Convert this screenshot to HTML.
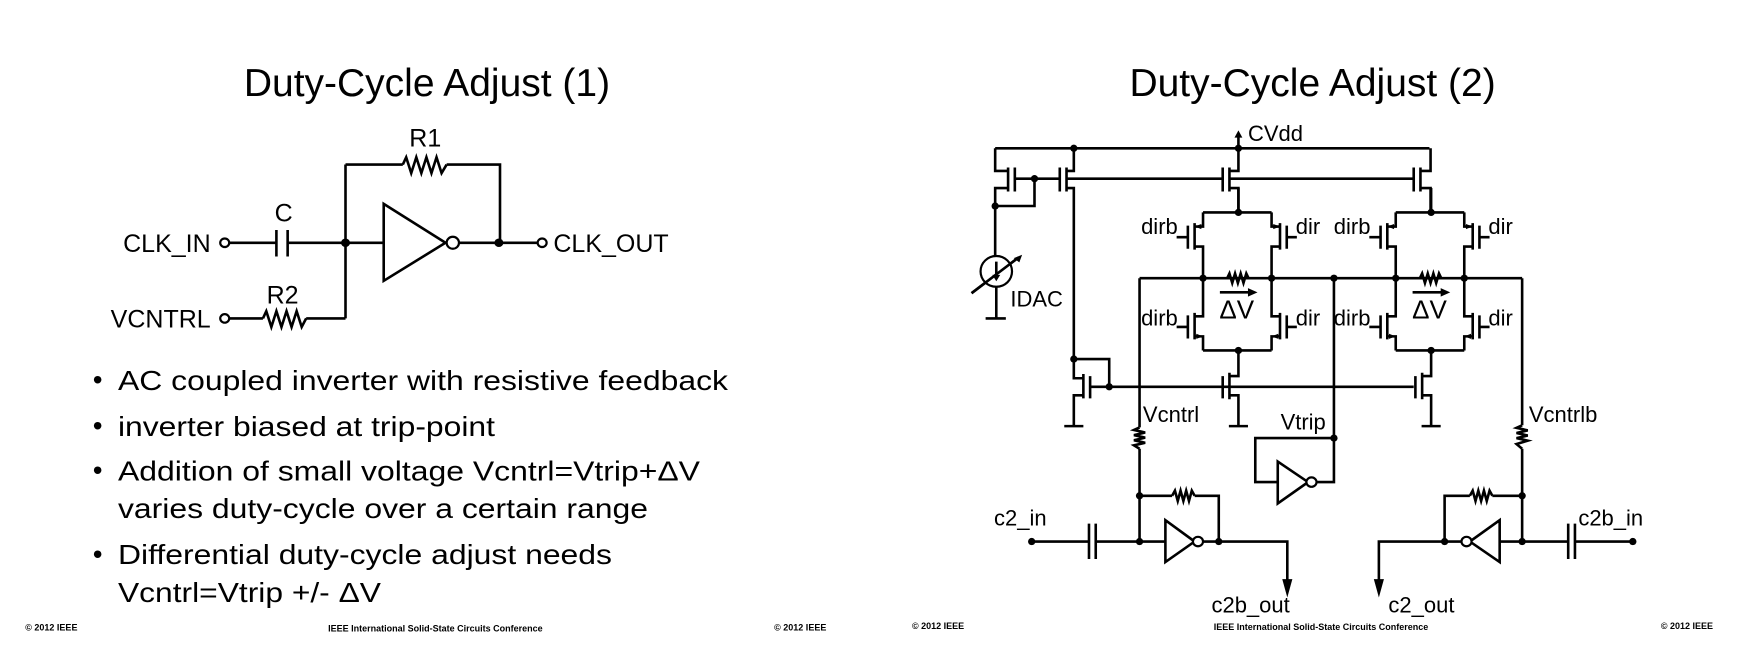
<!DOCTYPE html>
<html><head><meta charset="utf-8"><style>
html,body{margin:0;padding:0;background:#fff;}
svg{display:block;}
text{font-family:"Liberation Sans",Arial,sans-serif;fill:#000;}
</style></head><body>
<svg width="1760" height="670" viewBox="0 0 1760 670" xmlns="http://www.w3.org/2000/svg">
<defs>
<style>
.w{fill:none;stroke:#000;stroke-width:2.6;vector-effect:non-scaling-stroke;stroke-linejoin:miter;}
.f{fill:#000;stroke:none;}
.o{fill:#fff;stroke:#000;stroke-width:2.2;vector-effect:non-scaling-stroke;}
</style>
</defs>

<!-- LEFT SLIDE (zoom coords) -->
<g transform="scale(0.5618,0.4274)">
<text transform="translate(760,225) scale(1.78,2.34)" font-size="39" text-anchor="middle">Duty-Cycle Adjust (1)</text>
<text transform="translate(757,343) scale(1.78,2.34)" font-size="25" text-anchor="middle">R1</text>
<text transform="translate(505,518) scale(1.78,2.34)" font-size="25" text-anchor="middle">C</text>
<text transform="translate(503,710) scale(1.78,2.34)" font-size="25" text-anchor="middle">R2</text>
<text transform="translate(375,590) scale(1.78,2.34)" font-size="25" text-anchor="end">CLK_IN</text>
<text transform="translate(985,590) scale(1.78,2.34)" font-size="25">CLK_OUT</text>
<text transform="translate(375,766) scale(1.78,2.34)" font-size="25" text-anchor="end">VCNTRL</text>

<path class="w" d="M615,385H717 M795,385H890V568 M615,385V745 M405,568H492 M492,538V600 M512,538V600 M512,568H683 M683,477V657L793,568Z M818,568H958 M405,745H468 M545,745H615"/>
<polyline class="w" points="717,385 723,368 732,405 741,368 750,405 759,368 768,405 777,368 786,405 795,385"/>
<polyline class="w" points="468,745 474,728 483,765 492,728 501,765 510,728 519,765 528,728 537,765 545,745"/>
<ellipse class="o" cx="806" cy="568" rx="11" ry="14"/>
<ellipse class="o" cx="400" cy="568" rx="8" ry="10"/>
<ellipse class="o" cx="965" cy="568" rx="8" ry="10"/>
<ellipse class="o" cx="400" cy="745" rx="8" ry="10"/>
<ellipse class="f" cx="615" cy="568" rx="8" ry="10"/>
<ellipse class="f" cx="888" cy="568" rx="8" ry="10"/>

<g font-size="28">
<text transform="translate(165,910) scale(1.78,2.34)">•</text>
<text transform="translate(210,912) scale(1.78,2.34)" textLength="610" lengthAdjust="spacingAndGlyphs">AC coupled inverter with resistive feedback</text>
<text transform="translate(165,1018) scale(1.78,2.34)">•</text>
<text transform="translate(210,1020) scale(1.78,2.34)" textLength="377" lengthAdjust="spacingAndGlyphs">inverter biased at trip-point</text>
<text transform="translate(165,1122) scale(1.78,2.34)">•</text>
<text transform="translate(210,1124) scale(1.78,2.34)" textLength="582" lengthAdjust="spacingAndGlyphs">Addition of small voltage Vcntrl=Vtrip+ΔV</text>
<text transform="translate(210,1212) scale(1.78,2.34)" textLength="530" lengthAdjust="spacingAndGlyphs">varies duty-cycle over a certain range</text>
<text transform="translate(165,1318) scale(1.78,2.34)">•</text>
<text transform="translate(210,1320) scale(1.78,2.34)" textLength="494" lengthAdjust="spacingAndGlyphs">Differential duty-cycle adjust needs</text>
<text transform="translate(210,1408) scale(1.78,2.34)" textLength="263" lengthAdjust="spacingAndGlyphs">Vcntrl=Vtrip +/- ΔV</text>
</g>
<g font-size="9" font-weight="bold">
<text transform="translate(45,1475) scale(1.78,2.34)">© 2012 IEEE</text>
<text transform="translate(775,1477) scale(1.78,2.34)" text-anchor="middle">IEEE International Solid-State Circuits Conference</text>
<text transform="translate(1378,1475) scale(1.78,2.34)">© 2012 IEEE</text>
</g>
</g>

<!-- RIGHT SLIDE (zoom coords) -->
<g transform="translate(880,0) scale(0.5618,0.4274)">
<text transform="translate(770,225) scale(1.78,2.34)" font-size="39" text-anchor="middle">Duty-Cycle Adjust (2)</text>

<path class="w" d="M205,347H978 M638,347V318
M205,347V400H228 M205,482V440H228 M228,392V448 M240,392V448 M240,418H320 M275,418V482H205 M205,482V610
M320,392V448 M332,392V448 M332,400H345V347 M332,440H345V840 M332,418H610
M610,392V448 M622,392V448 M622,400H638V347 M622,440H638V497 M622,418H950
M950,392V448 M962,392V448 M962,400H980V347 M962,440H980V497
M345,840H408V905 M345,840V885H362 M362,875V932 M374,880V932 M374,905H950 M362,925H345V995 M328,997H362
M462,651H1143
M462,651V1000 M462,1050V1267 M462,1160H520 M560,1160H603V1267
M808,651V1128H774 M808,1025H668V1128H708 M708,1080V1178L762,1128Z
M1143,651V995 M1143,1050V1267 M1143,1160H1090 M1050,1160H1005V1267
M270,1267H372 M372,1225V1308 M384,1225V1308 M384,1267H508 M508,1217V1315L560,1267Z M572,1267H725V1370
M1340,1267H1237 M1237,1225V1308 M1225,1225V1308 M1225,1267H1103 M1103,1217V1315L1050,1267Z M1038,1267H888V1370
M207,668V745 M188,745H224 M163,686L246,603"/>
<g id="blk">
<path class="w" d="M575,497H697 M575,497V530H560 M560,522V584 M548,528V582 M528,555H548 M560,577H575V651
M697,497V530H712 M712,522V584 M724,528V582 M724,555H742 M712,577H697V651
M575,651V740H560 M560,732V794 M548,738V792 M528,765H548 M560,787H575V820 M575,820H697
M697,651V740H712 M712,732V794 M724,738V792 M724,765H742 M712,787H697V820
M638,497V440 M638,820V880H622 M622,872V934 M610,880V932 M622,925H638V995 M621,997H655
M605,684H660"/>
<polygon class="f" points="655,674 672,684 655,694"/>
<polyline class="w" points="618,651 622,640 627,662 632,640 637,662 642,640 647,662 652,640 656,651"/>
<polygon class="f" points="560,530 572,524 572,536"/>
<polygon class="f" points="712,530 700,524 700,536"/>
<polygon class="f" points="575,787 563,781 563,793"/>
<polygon class="f" points="697,787 709,781 709,793"/>
<ellipse class="f" cx="638" cy="497" rx="6.5" ry="8.5"/>
<ellipse class="f" cx="575" cy="651" rx="6.5" ry="8.5"/>
<ellipse class="f" cx="697" cy="651" rx="6.5" ry="8.5"/>
<ellipse class="f" cx="638" cy="820" rx="6.5" ry="8.5"/>
<text transform="translate(530,548) scale(1.78,2.34)" font-size="22" text-anchor="end">dirb</text>
<text transform="translate(740,548) scale(1.78,2.34)" font-size="22">dir</text>
<text transform="translate(530,762) scale(1.78,2.34)" font-size="22" text-anchor="end">dirb</text>
<text transform="translate(740,762) scale(1.78,2.34)" font-size="22">dir</text>
<text transform="translate(635,745) scale(1.78,2.34)" font-size="26" text-anchor="middle">ΔV</text>
</g>
<use href="#blk" transform="translate(343,0)"/>

<polyline class="w" points="462,1000 452,1006 472,1012 452,1018 472,1024 452,1030 472,1036 452,1042 462,1050"/>
<polyline class="w" points="1143,995 1133,1001 1153,1007 1133,1013 1153,1019 1133,1025 1153,1031 1133,1039 1143,1050"/>
<polyline class="w" points="520,1160 525,1148 530,1172 535,1148 540,1172 545,1148 550,1172 555,1148 560,1160"/>
<polyline class="w" points="1050,1160 1055,1148 1060,1172 1065,1148 1070,1172 1075,1148 1080,1172 1085,1148 1090,1160"/>

<polygon class="f" points="631,322 645,322 638,305"/>
<polygon class="f" points="716,1355 734,1355 725,1398"/>
<polygon class="f" points="879,1355 897,1355 888,1398"/>
<polygon class="f" points="238,604 253,596 248,614"/>

<ellipse class="o" cx="207" cy="635" rx="28" ry="36" style="fill:#fff"/>
<path class="w" d="M207,612V652 M163,686L246,603"/>
<polygon class="f" points="200,643 214,643 207,658"/>

<ellipse class="o" cx="768" cy="1128" rx="9" ry="11"/>
<ellipse class="o" cx="566" cy="1267" rx="9" ry="11"/>
<ellipse class="o" cx="1044" cy="1267" rx="9" ry="11"/>

<g class="f">
<ellipse cx="345" cy="347" rx="6.5" ry="8.5"/><ellipse cx="638" cy="347" rx="6.5" ry="8.5"/>
<ellipse cx="275" cy="418" rx="6.5" ry="8.5"/><ellipse cx="205" cy="482" rx="6.5" ry="8.5"/>
<ellipse cx="808" cy="651" rx="6.5" ry="8.5"/>
<ellipse cx="345" cy="840" rx="6.5" ry="8.5"/><ellipse cx="408" cy="905" rx="6.5" ry="8.5"/>
<ellipse cx="808" cy="1025" rx="6.5" ry="8.5"/>
<ellipse cx="462" cy="1160" rx="6.5" ry="8.5"/><ellipse cx="462" cy="1267" rx="6.5" ry="8.5"/>
<ellipse cx="603" cy="1267" rx="6.5" ry="8.5"/><ellipse cx="270" cy="1267" rx="6.5" ry="8.5"/>
<ellipse cx="1143" cy="1160" rx="6.5" ry="8.5"/><ellipse cx="1143" cy="1267" rx="6.5" ry="8.5"/>
<ellipse cx="1005" cy="1267" rx="6.5" ry="8.5"/><ellipse cx="1340" cy="1267" rx="6.5" ry="8.5"/>
</g>

<g font-size="22">
<text transform="translate(655,330) scale(1.78,2.34)">CVdd</text>
<text transform="translate(232,717) scale(1.78,2.34)">IDAC</text>
<text transform="translate(468,987) scale(1.78,2.34)">Vcntrl</text>
<text transform="translate(713,1005) scale(1.78,2.34)">Vtrip</text>
<text transform="translate(1155,987) scale(1.78,2.34)">Vcntrlb</text>
<text transform="translate(203,1230) scale(1.78,2.34)">c2_in</text>
<text transform="translate(1243,1230) scale(1.78,2.34)">c2b_in</text>
<text transform="translate(590,1433) scale(1.78,2.34)">c2b_out</text>
<text transform="translate(905,1433) scale(1.78,2.34)">c2_out</text>
</g>
<g font-size="9" font-weight="bold">
<text transform="translate(57,1472) scale(1.78,2.34)">© 2012 IEEE</text>
<text transform="translate(785,1474) scale(1.78,2.34)" text-anchor="middle">IEEE International Solid-State Circuits Conference</text>
<text transform="translate(1390,1472) scale(1.78,2.34)">© 2012 IEEE</text>
</g>
</g>
</svg>
</body></html>
